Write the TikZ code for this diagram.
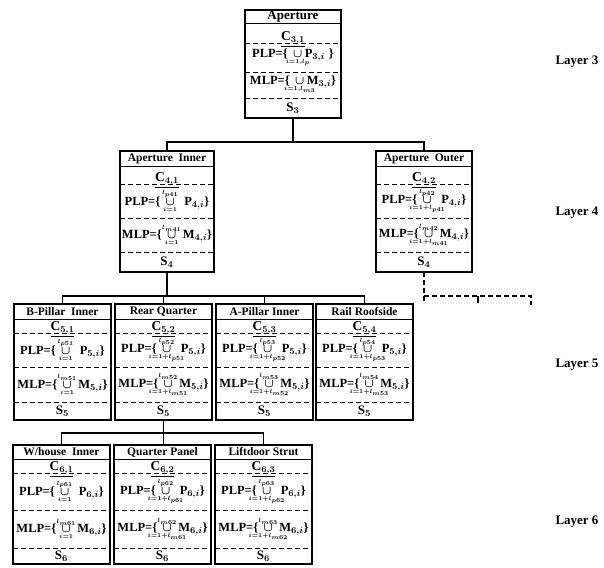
\documentclass[tikz,border=0pt]{standalone}
\usepackage{fontspec}
\setmainfont{Liberation Serif}
\usetikzlibrary{calc}
\newcommand\zc[1]{\makebox[14pt]{$\scriptscriptstyle #1$}}
\newcommand\uu[2]{\mathop{\cup}\limits_{\zc{#1}}^{\zc{#2}}}
\newcommand\ud[1]{\mathop{\cup}\limits_{\zc{#1}}}
\newcommand\partbox[9]{%
  \pgfmathsetmacro\pbtot{\ha+\hb+\hc+\hd+\he}%
  \pgfmathsetmacro\pbya{\ha+\hb}%
  \pgfmathsetmacro\pbyb{\ha+\hb+\hc}%
  \pgfmathsetmacro\pbyc{\ha+\hb+\hc+\hd}%
  \node[pframe,minimum width=#4,minimum height=\pbtot,anchor=north west] (#1) at (#2,#3) {};
  \draw[tsep] ([yshift=-\ha]#1.north west) -- ([yshift=-\ha]#1.north east);
  \draw[dsep] ([yshift=-\pbya]#1.north west) -- ([yshift=-\pbya]#1.north east);
  \draw[dsep] ([yshift=-\pbyb]#1.north west) -- ([yshift=-\pbyb]#1.north east);
  \draw[dsep] ([yshift=-\pbyc]#1.north west) -- ([yshift=-\pbyc]#1.north east);
  \node[ttxt] (#1-t) at ([yshift=-\ha/2]#1.north) {#5};
  \node[ctxt] (#1-c) at ([yshift=-\pbya+2.5]#1.north) {\underline{#6}};
  \node[rtxt] (#1-p) at ([yshift=-\ha-\hb-\hc/2]#1.north) {#7};
  \node[rtxt] (#1-m) at ([yshift=-\pbyb-\hd/2]#1.north) {#8};
  \node[stxt] (#1-s) at ([yshift=-\pbyc-\he/2]#1.north) {#9};
}
\newcommand\lp[4]{#1=\{\hspace{3pt}$#2$\hspace{7pt}#3$_{#4,i}$\}}
\newcommand\lm[4]{#1=\{\hspace{3pt}$#2$\hspace{4pt}#3$_{#4,i}$\}}
\begin{document}
\begin{tikzpicture}[x=1pt,y=-1pt,
  pframe/.style={draw,line width=2pt,rectangle,inner sep=0pt,outer sep=0pt},
  tsep/.style={line width=1pt},
  dsep/.style={line width=0.7pt,dash pattern=on 5pt off 3pt},
  conn/.style={line width=1.8pt},
  dconn/.style={line width=1.8pt,dash pattern=on 5pt off 3pt},
  ttxt/.style={inner sep=0pt,font=\bfseries\fontsize{\tsize}{\tsize}\selectfont},
  ctxt/.style={inner sep=0pt,anchor=base,font=\bfseries\boldmath\fontsize{13.5}{13.5}\selectfont},
  rtxt/.style={inner sep=0pt,font=\bfseries\boldmath\fontsize{12.5}{14}\selectfont},
  stxt/.style={inner sep=0pt,font=\bfseries\boldmath\fontsize{13}{14}\selectfont},
  layer/.style={inner sep=0pt,font=\bfseries\fontsize{13}{13}\selectfont}]
\useasboundingbox (0,0) rectangle (604,567);

% Layer 3
\def\ha{14}\def\hb{19}\def\hc{29}\def\hd{26}\def\he{20}\def\tsize{13}
\partbox{ap}{245}{10}{96}{Aperture}{C$_{3,1}$}
  {PLP=\{\hspace{3pt}$\ud{i=1,l_p}$P$_{3,i}$\hspace{4pt}\}}
  {MLP=\{\hspace{3pt}$\ud{i=1,l_{m3}}$M$_{3,i}$\}}{S$_3$}

% Layer 4
\def\ha{15}\def\hb{18}\def\hc{34}\def\hd{34}\def\he{20}\def\tsize{11.5}
\partbox{apI}{120}{151}{94}{Aperture\ \ Inner}{C$_{4,1}$}
  {\lp{PLP}{\uu{i=1}{l_{p41}}}{P}{4}}
  {\lm{MLP}{\uu{i=1}{l_{m41}}}{M}{4}}{S$_4$}
\partbox{apO}{376}{151}{96}{Aperture\ \ Outer}{C$_{4,2}$}
  {\lp{PLP}{\uu{i=1+l_{p41}}{l_{p42}}}{P}{4}}
  {\lm{MLP}{\uu{i=1+l_{m41}}{l_{m42}}}{M}{4}}{S$_4$}

% Layer 5
\def\ha{15}\def\hb{14}\def\hc{34}\def\hd{35}\def\he{18}\def\tsize{11.5}
\partbox{bpi}{14}{304}{97}{B-Pillar\ \ Inner}{C$_{5,1}$}
  {\lp{PLP}{\uu{i=1}{l_{p51}}}{P}{5}}
  {\lm{MLP}{\uu{i=1}{l_{m51}}}{M}{5}}{S$_5$}
\partbox{rq}{115}{304}{97}{Rear Quarter}{C$_{5,2}$}
  {\lp{PLP}{\uu{i=1+l_{p51}}{l_{p52}}}{P}{5}}
  {\lm{MLP}{\uu{i=1+l_{m51}}{l_{m52}}}{M}{5}}{S$_5$}
\partbox{api}{216}{304}{97}{A-Pillar Inner}{C$_{5,3}$}
  {\lp{PLP}{\uu{i=1+l_{p52}}{l_{p53}}}{P}{5}}
  {\lm{MLP}{\uu{i=1+l_{m52}}{l_{m53}}}{M}{5}}{S$_5$}
\partbox{rr}{316}{304}{97}{Rail Roofside}{C$_{5,4}$}
  {\lp{PLP}{\uu{i=1+l_{p53}}{l_{p54}}}{P}{5}}
  {\lm{MLP}{\uu{i=1+l_{m53}}{l_{m54}}}{M}{5}}{S$_5$}

% Layer 6
\def\ha{14}\def\hb{14}\def\hc{37}\def\hd{38}\def\he{16}\def\tsize{11.5}
\partbox{whi}{13}{445}{97}{W/house\ \ Inner}{C$_{6,1}$}
  {\lp{PLP}{\uu{i=1}{l_{p61}}}{P}{6}}
  {\lm{MLP}{\uu{i=1}{l_{m61}}}{M}{6}}{S$_6$}
\partbox{qp}{114}{445}{97}{Quarter Panel}{C$_{6,2}$}
  {\lp{PLP}{\uu{i=1+l_{p61}}{l_{p62}}}{P}{6}}
  {\lm{MLP}{\uu{i=1+l_{m61}}{l_{m62}}}{M}{6}}{S$_6$}
\partbox{lds}{215}{445}{97}{Liftdoor Strut}{C$_{6,3}$}
  {\lp{PLP}{\uu{i=1+l_{p62}}{l_{p63}}}{P}{6}}
  {\lm{MLP}{\uu{i=1+l_{m62}}{l_{m63}}}{M}{6}}{S$_6$}

% Layer labels
\node[layer] (L3) at (577,62) {Layer 3};
\node[layer] (L4) at (577,213) {Layer 4};
\node[layer] (L5) at (577,365) {Layer 5};
\node[layer] (L6) at (577,522) {Layer 6};

% connectors
\coordinate (bus1) at (0,142);
\coordinate (bus2) at (0,296);
\coordinate (bus3) at (0,433);
\draw[conn] (ap.south) -- (ap.south |- bus1);
\draw[conn] (apI.north) -- (apI.north |- bus1) -- (apO.north |- bus1) -- (apO.north);
\draw[conn] (apI.south) -- (apI.south |- bus2);
\draw[conn] (bpi.north) -- (bpi.north |- bus2) -- (rr.north |- bus2) -- (rr.north);
\draw[conn] (rq.north) -- (rq.north |- bus2);
\draw[conn] (api.north) -- (api.north |- bus2);
\draw[conn] (rq.south) -- (rq.south |- qp.north);
\draw[conn] (whi.north) -- (whi.north |- bus3) -- (lds.north |- bus3) -- (lds.north);

% dashed continuation
\coordinate (dA) at (0,303);
\coordinate (dM) at (478,303);
\coordinate (dR) at (531,305);
\draw[dconn] (apO.south) -- (apO.south |- dA);
\draw[dconn] (apO.south |- bus2) -- (dR |- bus2) -- (dR);
\draw[conn] (dM |- bus2) -- (dM);
\end{tikzpicture}
\end{document}
